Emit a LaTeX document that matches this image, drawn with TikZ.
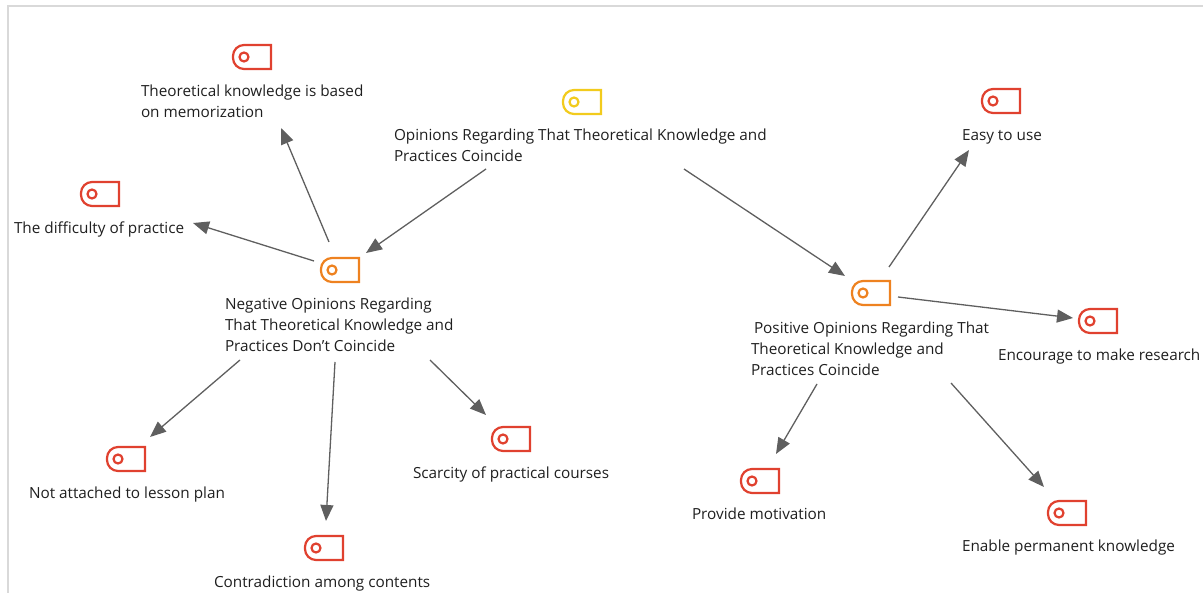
\documentclass[tikz,border=0pt]{standalone}
\usepackage{fontspec}
\setmainfont{Open Sans}
\usetikzlibrary{arrows.meta}
\definecolor{tagred}{HTML}{E0412F}
\definecolor{tagorange}{HTML}{EE8220}
\definecolor{tagyellow}{HTML}{F2CB1D}
\definecolor{linkgray}{HTML}{5F5F5F}
\definecolor{framegray}{HTML}{D9D9D9}
\definecolor{txt}{HTML}{1F1F1F}
\tikzset{
  iconbox/.style={minimum width=38pt,minimum height=24pt,inner sep=0pt,outer sep=0pt},
  lbl/.style={anchor=north west,inner sep=0pt,outer sep=0pt,align=left,text=txt,yshift=-0.8pt,
    font=\fontsize{15.3}{21}\selectfont},
  link/.style={draw=linkgray,line width=1.3pt,-{Triangle[length=16pt,width=13pt]},shorten >=0pt},
}
\newcommand{\tagicon}[4]{%
  \node[iconbox] (#1) at (#3,#4) {};
  \draw[#2,line width=2.2pt,line join=miter]
    (#1.north east) [sharp corners] -- (#1.south east)
    [rounded corners=11pt] -- (#1.south west) -- (#1.north west)
    [sharp corners] -- cycle;
  \draw[#2,line width=2.2pt] ([xshift=-8pt]#1.center) circle (4.5pt);
}
\begin{document}
\begin{tikzpicture}[x=1pt,y=-1pt]
\useasboundingbox (0,0) rectangle (1203,593);
\coordinate (fa) at (8,593);
\coordinate (fb) at (8,6);
\coordinate (fc) at (1203,6);
\draw[framegray,line width=1.6pt] (fa) -- (fb) -- (fc);

\tagicon{rootI}{tagyellow}{582}{102}
\tagicon{memI}{tagred}{252}{57}
\tagicon{diffI}{tagred}{100}{194}
\tagicon{negI}{tagorange}{340}{270}
\tagicon{easyI}{tagred}{1001}{101}
\tagicon{posI}{tagorange}{871}{293}
\tagicon{encI}{tagred}{1098}{321}
\tagicon{motI}{tagred}{760}{481}
\tagicon{permI}{tagred}{1067}{513}
\tagicon{scarI}{tagred}{511}{439}
\tagicon{planI}{tagred}{126}{459}
\tagicon{contI}{tagred}{324}{548}

\node[lbl] (root) at (394,128) {Opinions Regarding That Theoretical Knowledge and\\Practices Coincide};
\node[lbl] (mem) at (141,84) {Theoretical knowledge is based\\on memorization};
\node[lbl] (diff) at (14,221) {The difficulty of practice};
\node[lbl] (neg) at (225,297) {Negative Opinions Regarding\\That Theoretical Knowledge and\\Practices Don’t Coincide};
\node[lbl] (easy) at (962,129) {Easy to use};
\node[lbl] (pos) at (751,321) {\hspace*{3pt}Positive Opinions Regarding That\\Theoretical Knowledge and\\Practices Coincide};
\node[lbl] (enc) at (998,348) {Encourage to make research};
\node[lbl] (mot) at (692,507) {Provide motivation};
\node[lbl] (perm) at (962,539) {Enable permanent knowledge};
\node[lbl] (scar) at (413,466) {Scarcity of practical courses};
\node[lbl] (plan) at (29,486) {Not attached to lesson plan};
\node[lbl] (cont) at (214,575) {Contradiction among contents};

\coordinate (a1) at (329,242); \coordinate (b1) at (281,128);
\coordinate (a2) at (314,261); \coordinate (b2) at (193,223);
\coordinate (a3) at (486,169); \coordinate (b3) at (366,253);
\coordinate (a4) at (684,169); \coordinate (b4) at (845,276);
\coordinate (a5) at (889,267); \coordinate (b5) at (969,150);
\coordinate (a6) at (898,297); \coordinate (b6) at (1073,318);
\coordinate (a7) at (817,384); \coordinate (b7) at (776,454);
\coordinate (a8) at (951,383); \coordinate (b8) at (1044,487);
\coordinate (a9) at (240,360); \coordinate (b9) at (150,437);
\coordinate (a10) at (335,362); \coordinate (b10) at (326,521);
\coordinate (a11) at (430,360); \coordinate (b11) at (486,415);
\foreach \i in {1,...,11} \draw[link] (a\i) -- (b\i);
\end{tikzpicture}
\end{document}
